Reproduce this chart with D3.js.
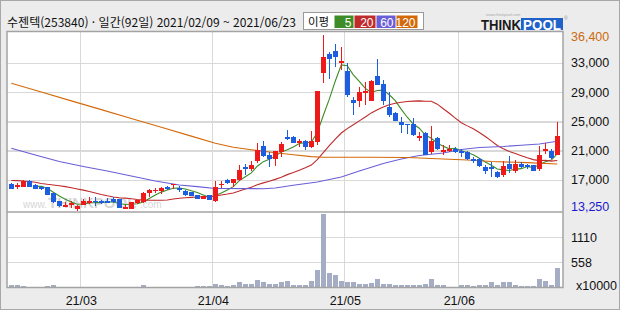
<!DOCTYPE html>
<html lang="ko">
<head>
<meta charset="UTF-8">
<title>수젠텍 일간 차트</title>
<script src="https://d3js.org/d3.v7.min.js"></script>
<style>
  * { margin: 0; padding: 0; box-sizing: border-box; }
  body { width: 620px; height: 310px; overflow: hidden; background: #ececec; }
  svg { display: block; }
</style>
</head>
<body>
<div id="chart"></div>
<script>
// 거래일 (2021년 2/9 ~ 6/23, 92일)
const monthNames = ["02", "03", "04", "05", "06"];
const febDays = [9, 10, 15, 16, 17, 18, 19, 22, 23, 24, 25, 26];
const marDays = [2, 3, 4, 5, 8, 9, 10, 11, 12, 15, 16, 17, 18, 19, 22, 23, 24, 25, 26, 29, 30, 31];
const aprDays = [1, 2, 5, 6, 7, 8, 9, 12, 13, 14, 15, 16, 19, 20, 21, 22, 23, 26, 27, 28, 29, 30];
const mayDays = [3, 4, 6, 7, 10, 11, 12, 13, 14, 17, 18, 20, 21, 24, 25, 26, 27, 28, 31];
const junDays = [1, 2, 3, 4, 7, 8, 9, 10, 11, 14, 15, 16, 17, 18, 21, 22, 23];

// 시가 / 고가 / 저가 / 종가 (원)
const opens = [16500, 16250, 16100, 16850, 16400, 16100, 16050, 15200, 14150, 13400,
  13600, 13100, 13650, 13850, 14200, 14200, 14150, 14500, 14400, 13250,
  13100, 13850, 14050, 15300, 15600, 15500, 16050, 16450, 15900, 15600,
  15400, 14950, 14500, 14950, 14200, 16450, 17050, 16600, 17050, 18800,
  18600, 19600, 21700, 20400, 19950, 20800, 22900, 22900, 22050, 22350,
  21500, 22250, 31700, 34250, 34700, 33100, 32000, 28000, 27900, 29100,
  27900, 31250, 30150, 27000, 26150, 24950, 24700, 24700, 23000, 23450,
  20800, 22800, 20850, 21200, 21300, 21050, 20850, 19950, 19850, 18850,
  18800, 18150, 17750, 19250, 18300, 19250, 19150, 19050, 18600, 21050,
  20950, 20500];
const highs = [16650, 16650, 17050, 17050, 16500, 16200, 16100, 15250, 14200, 14050,
  14150, 13650, 14500, 14750, 14750, 14300, 14550, 14700, 14450, 13600,
  14050, 14350, 15400, 15850, 15950, 16050, 16150, 16500, 16150, 15650,
  15450, 15000, 14900, 15000, 16850, 16950, 17200, 17200, 19150, 19250,
  19700, 22050, 22350, 20850, 21000, 22250, 23900, 23050, 22700, 22500,
  23700, 29250, 36900, 34550, 35650, 35250, 33000, 28350, 29800, 30450,
  30700, 33550, 30700, 29050, 26300, 25600, 24750, 25500, 23600, 23600,
  24400, 22950, 21800, 21800, 21600, 21250, 20950, 20150, 20000, 19150,
  19500, 18300, 19600, 20300, 19800, 19500, 19250, 19100, 21700, 22050,
  21300, 24950];
const lows = [15750, 15750, 16050, 16050, 15800, 15700, 14950, 13950, 13400, 13300,
  13200, 12850, 13600, 13750, 13500, 13750, 13900, 13900, 13150, 13050,
  13100, 13800, 13950, 14750, 15200, 15150, 15700, 15750, 15400, 14850,
  14800, 14450, 14450, 14250, 14050, 15950, 16500, 16050, 16950, 17750,
  18250, 19300, 20250, 18800, 18950, 20250, 22500, 22050, 21600, 21150,
  21450, 21850, 30350, 30900, 32450, 32100, 28450, 25900, 27050, 27300,
  27800, 30000, 27250, 25700, 25050, 23500, 23350, 23050, 22400, 20400,
  20600, 21150, 20500, 20850, 20700, 20150, 19750, 19400, 18850, 17850,
  17400, 17300, 17500, 18050, 18050, 18700, 18600, 18250, 18300, 20600,
  19950, 20450];
const closes = [15850, 16300, 16850, 16100, 15850, 15750, 15050, 14050, 13500, 13650,
  13950, 13500, 14150, 14200, 14000, 13850, 14050, 14050, 13200, 13300,
  14050, 14300, 15300, 15650, 15700, 15950, 15750, 16500, 15850, 14950,
  14850, 14500, 14850, 14300, 16100, 16500, 16600, 17150, 18400, 18750,
  19150, 21150, 20300, 19950, 20950, 21950, 22700, 22150, 22350, 21500,
  22350, 29250, 33800, 33550, 33900, 33350, 28700, 27600, 29050, 29150,
  30550, 30050, 27800, 25900, 25150, 24600, 24650, 23150, 23050, 20500,
  22350, 21250, 21150, 21250, 20850, 20750, 19950, 19600, 18950, 18300,
  18500, 17400, 18950, 18500, 19250, 18850, 18800, 18300, 20400, 21300,
  20050, 23050];

// 거래량 (x10000)
const volumes = [55, 55, 33, 22, 22, 22, 25, 55, 22, 22,
  22, 22, 22, 22, 22, 22, 22, 22, 22, 22,
  22, 22, 55, 22, 22, 22, 22, 22, 22, 22,
  22, 33, 33, 33, 77, 49, 33, 62, 121, 77,
  77, 166, 121, 77, 77, 121, 137, 49, 49, 49,
  150, 386, 1623, 314, 269, 137, 121, 121, 77, 77,
  106, 194, 77, 77, 49, 49, 49, 49, 49, 77,
  194, 62, 49, 18, 18, 49, 49, 33, 49, 49,
  121, 49, 121, 121, 49, 33, 33, 33, 181, 137,
  49, 431];

// 20일선: 앞 19일은 화면 이전 데이터가 필요해서 그림에서 읽음
const ma20Head = [16970, 16950, 16900, 16840, 16730, 16560, 16450, 16360, 16250, 16130,
  15980, 15810, 15650, 15470, 15260, 15060, 14880, 14720, 14610];
// 60일선, 120일선
const ma60Idx = [0, 4, 8, 12, 16, 20, 24, 28, 31, 34, 42, 44, 47, 51, 55, 58, 62, 65, 68, 72, 75, 78, 82, 85, 88, 91];
const ma60Val = [21380, 20460, 19570, 18890, 18270, 17590, 16900, 16360, 16130, 15880, 15850, 15950, 16320, 16770, 17450, 18270, 19300, 19910, 20390, 20730, 21210, 21490, 21620, 21790, 21960, 22330];
const ma120Idx = [0, 5, 10, 15, 20, 25, 30, 34, 37, 40, 44, 47, 50, 52, 60, 66, 70, 76, 80, 86, 91];
const ma120Val = [30270, 29060, 27860, 26660, 25450, 24250, 23040, 22060, 21510, 21170, 20770, 20500, 20230, 20150, 20150, 20120, 19980, 19780, 19570, 19410, 19230];

const priceTicks = [33000, 29000, 25000, 21000, 17000];
const priceMax = 36400, priceMin = 13250;
const volTicks = [1110, 558];
const monthTicks = ["21/03", "21/04", "21/05", "21/06"];
const maLabels = ["5", "20", "60", "120"];
const maColors = ["#3d8c26", "#bf2a2a", "#6a5ed8", "#d4690a"];

const dates = [febDays, marDays, aprDays, mayDays, junDays]
  .flatMap((ds, k) => ds.map(d => "21/" + monthNames[k] + "/" + String(d).padStart(2, "0")));

const W = 620, H = 310;
const P = { left: 7, right: 563, top: 31.5, mid: 212, bottom: 287.5 };

const svg = d3.select("#chart").append("svg")
  .attr("width", W).attr("height", H)
  .style("font-family", "'Liberation Sans', Arial, sans-serif");

svg.append("rect").attr("x", 0.5).attr("y", 0.5).attr("width", W - 1).attr("height", H - 1)
  .attr("fill", "#ececec").attr("stroke", "#a8a8a8");

const x = d3.scaleBand().domain(d3.range(dates.length)).range([8.3, 560.3]);
const cx = i => x(i) + x.bandwidth() / 2;
const y = d3.scaleLinear().domain([priceMin, priceMax]).range([207.7, 38.4]);
const yv = d3.scaleLinear().domain([0, volTicks[0]]).range([P.bottom, 237.3]);

// 플롯 배경
svg.append("rect").attr("x", P.left).attr("y", P.top)
  .attr("width", P.right - P.left).attr("height", P.bottom - P.top)
  .attr("fill", "#fff");

const grid = svg.append("g").attr("stroke", "#d9d9d9").attr("stroke-width", 1.5)
  .attr("shape-rendering", "crispEdges");
grid.selectAll(".hp").data(priceTicks).join("line")
  .attr("x1", P.left).attr("x2", P.right).attr("y1", d => y(d)).attr("y2", d => y(d));
grid.selectAll(".hv").data(volTicks).join("line")
  .attr("x1", P.left).attr("x2", P.right).attr("y1", d => yv(d)).attr("y2", d => yv(d));

// 월 시작 위치
const monthStart = monthTicks.map(m => dates.findIndex(d => d.startsWith(m)));
grid.selectAll(".vm").data(monthStart).join("line")
  .attr("x1", i => x(i)).attr("x2", i => x(i)).attr("y1", P.top).attr("y2", P.bottom);

// 워터마크
const wm = svg.append("g").attr("fill", "#d6d6d6");
wm.append("text").attr("x", 23).attr("y", 208).style("font-size", "10px").text("www.");
wm.append("text").attr("x", 48).attr("y", 208).style("font-size", "15px")
  .attr("font-weight", "bold").text("THINKPOOL");
wm.append("text").attr("x", 140).attr("y", 208).style("font-size", "10px").text(".com");

// 이동평균선
const ma5 = closes.map((c, i) => i < 4 ? null : d3.mean(closes.slice(i - 4, i + 1)));
const ma20 = closes.map((c, i) => i < 19 ? ma20Head[i] : d3.mean(closes.slice(i - 19, i + 1)));
const ma60 = ma60Idx.map((i, k) => [i, ma60Val[k]]);
const ma120 = ma120Idx.map((i, k) => [i, ma120Val[k]]);
const line = d3.line().defined(d => d[1] != null).x(d => cx(d[0])).y(d => y(d[1]));

const maSeries = [
  ma5.map((v, i) => [i, v]),
  ma20.map((v, i) => [i, v]),
  ma60,
  ma120
];
svg.append("g").selectAll("path").data(maSeries).join("path")
  .attr("fill", "none")
  .attr("stroke", (d, k) => maColors[k])
  .attr("stroke-width", 1.1)
  .attr("d", line);

// 캔들
const up = i => closes[i] >= opens[i];
const candleColor = i => up(i) ? "#ee1a1a" : "#1d5ee0";
const candles = svg.append("g").attr("shape-rendering", "crispEdges")
  .selectAll("g").data(d3.range(dates.length)).join("g");
candles.append("line")
  .attr("x1", i => Math.round(cx(i)) + 0.5).attr("x2", i => Math.round(cx(i)) + 0.5)
  .attr("y1", i => y(highs[i])).attr("y2", i => y(lows[i]))
  .attr("stroke", candleColor).attr("stroke-width", 1);
candles.append("rect")
  .attr("x", i => Math.round(cx(i)) - 2)
  .attr("width", 5)
  .attr("y", i => y(Math.max(opens[i], closes[i])))
  .attr("height", i => Math.max(1.5, Math.abs(y(opens[i]) - y(closes[i]))))
  .attr("fill", candleColor);

// 거래량
svg.append("g").attr("shape-rendering", "crispEdges")
  .selectAll("rect").data(volumes).join("rect")
  .attr("x", (v, i) => Math.round(cx(i)) - 2)
  .attr("width", 5)
  .attr("y", v => yv(v))
  .attr("height", v => yv(0) - yv(v))
  .attr("fill", "#a5adc5");

// 테두리
const frame = svg.append("g").attr("fill", "none").attr("stroke", "#a3a3a3").attr("stroke-width", 1.5);
frame.append("rect").attr("x", P.left).attr("y", P.top)
  .attr("width", P.right - P.left).attr("height", P.bottom - P.top);
frame.append("line").attr("x1", P.left).attr("x2", P.right).attr("y1", P.mid).attr("y2", P.mid);

// 오른쪽 축 글자
const axisX = 571;
const fmt = d3.format(",");
const yl = svg.append("g").style("font-size", "12.5px").attr("dominant-baseline", "central");
yl.selectAll(".pt").data(priceTicks).join("text")
  .attr("x", axisX).attr("y", d => y(d)).attr("fill", "#111").text(fmt);
yl.append("text").attr("x", axisX).attr("y", y(priceMax) - 1).attr("fill", "#cc6a10").text(fmt(priceMax));
yl.append("text").attr("x", axisX).attr("y", y(priceMin) - 1).attr("fill", "#1a1acc").text(fmt(priceMin));
yl.selectAll(".vt").data(volTicks).join("text")
  .attr("x", axisX).attr("y", d => yv(d) + 1).attr("fill", "#111").text(d => d);
yl.append("text").attr("x", 576).attr("y", 286).attr("fill", "#111").text("x10000");

// 아래 월 글자
svg.append("g").style("font-size", "12.5px").attr("text-anchor", "middle")
  .selectAll("text").data(monthStart).join("text")
  .attr("x", i => x(i) + 1).attr("y", 305)
  .attr("fill", "#111")
  .text((i, k) => monthTicks[k]);

// 제목
svg.append("text").attr("x", 7).attr("y", 27)
  .attr("textLength", 289).attr("lengthAdjust", "spacingAndGlyphs")
  .style("font-family", "'Noto Sans CJK KR', sans-serif").style("font-size", "12.2px")
  .attr("fill", "#111")
  .text("수젠텍(253840) · 일간(" + dates.length + "일) 20" + dates[0] + " ~ 20" + dates[dates.length - 1]);

// 이평 범례
const lg = svg.append("g");
lg.append("rect").attr("x", 303.5).attr("y", 12.5).attr("width", 120).attr("height", 17)
  .attr("fill", "#fff").attr("stroke", "#999");
lg.append("text").attr("x", 308).attr("y", 26)
  .style("font-family", "'Noto Sans CJK KR', sans-serif").style("font-size", "11.5px")
  .attr("fill", "#111").text("이평");
const cellW = [20, 22, 20, 22];
let cxl = 334.5;
maLabels.forEach((t, k) => {
  lg.append("rect").attr("x", cxl).attr("y", 15.5).attr("width", cellW[k] - 1).attr("height", 12.5)
    .attr("fill", maColors[k]);
  lg.append("text").attr("x", cxl + cellW[k] - 3).attr("y", 26.5).attr("text-anchor", "end")
    .style("font-size", "12px").attr("fill", "#fff").text(t);
  cxl += cellW[k];
});

// 로고
const logo = svg.append("g");
logo.append("text").attr("x", 486).attr("y", 15.5).style("font-size", "4px").attr("fill", "#aaa").text("www.thinkpool.com");
logo.append("text").attr("x", 481).attr("y", 29.5).attr("textLength", 40).attr("lengthAdjust", "spacingAndGlyphs")
  .style("font-size", "14px").attr("font-weight", "bold").attr("fill", "#1a1a1a").text("THINK");
logo.append("rect").attr("x", 521).attr("y", 18).attr("width", 42).attr("height", 12).attr("fill", "#1f62c8");
logo.append("text").attr("x", 523).attr("y", 29.5).attr("textLength", 38).attr("lengthAdjust", "spacingAndGlyphs")
  .style("font-size", "14px").attr("font-weight", "bold").attr("fill", "#fff").text("POOL");
logo.append("text").attr("x", 564).attr("y", 20).style("font-size", "5px").attr("fill", "#999").text("®");
</script>
</body>
</html>
